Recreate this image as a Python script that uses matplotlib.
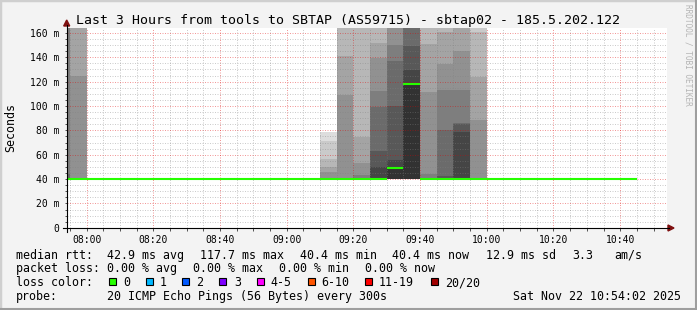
import matplotlib
matplotlib.use("Agg")
import matplotlib.pyplot as plt
from matplotlib.lines import Line2D
from matplotlib.patches import Rectangle, Polygon
from matplotlib.ticker import MultipleLocator, FuncFormatter

W, H = 697, 310
plt.rcParams["font.family"] = ["DejaVu Sans Mono", "DejaVu Sans"]

title = "Last 3 Hours from tools to SBTAP (AS59715) - sbtap02 - 185.5.202.122"
view_start = "07:54:02"
view_end = "10:54:02"
y_top = 164

# 5 minute steps with visible smoke, 20 sorted pings each (ms)
smoke_steps = ["07:50", "07:55", "09:10", "09:15", "09:20", "09:25",
               "09:30", "09:35", "09:40", "09:45", "09:50", "09:55"]
smoke_pings = [
    [40.4, 40.4, 40.4, 40.4, 40.4, 40.4, 40.4, 40.4, 40.4, 40.4,
     40.4, 40.4, 40.4, 44.0, 170.0, 178.0, 185.0, 192.0, 200.0, 210.0],
    [40.4, 40.4, 40.4, 40.4, 40.4, 40.4, 40.4, 40.4, 40.4, 40.4,
     40.4, 40.4, 40.4, 40.4, 40.4, 124.5, 170.0, 180.0, 190.0, 200.0],
    [40.4, 40.4, 40.4, 40.4, 40.4, 40.4, 40.4, 40.4, 40.4, 40.4,
     40.4, 40.4, 40.4, 40.4, 40.4, 45.5, 49.6, 56.4, 71.5, 78.6],
    [40.4, 40.4, 40.4, 40.4, 40.4, 40.4, 40.4, 40.4, 40.4, 40.4,
     40.4, 40.4, 40.4, 40.4, 40.4, 109.2, 141.2, 175.0, 185.0, 195.0],
    [40.4, 40.4, 40.4, 40.4, 40.4, 40.4, 40.4, 40.4, 40.4, 40.4,
     40.4, 40.4, 40.4, 40.4, 43.3, 52.9, 74.8, 175.0, 185.0, 195.0],
    [40.4, 40.4, 40.4, 40.4, 40.4, 40.4, 40.4, 40.4, 40.4, 40.4,
     40.4, 50.1, 63.0, 99.4, 112.2, 139.5, 151.8, 172.0, 182.0, 195.0],
    [40.4, 40.4, 40.4, 40.4, 40.4, 40.4, 40.4, 40.4, 40.4, 40.4,
     49.0, 55.6, 99.9, 136.8, 150.0, 168.0, 175.0, 182.0, 190.0, 200.0],
    [40.4, 40.4, 40.4, 40.4, 40.4, 40.4, 40.4, 40.4, 40.4, 40.4,
     117.7, 129.4, 149.4, 168.0, 172.0, 178.0, 184.0, 190.0, 198.0, 210.0],
    [40.4, 40.4, 40.4, 40.4, 40.4, 40.4, 40.4, 40.4, 40.4, 40.4,
     40.4, 40.4, 40.4, 40.4, 44.1, 111.1, 150.8, 172.0, 182.0, 195.0],
    [40.4, 40.4, 40.4, 40.4, 40.4, 40.4, 40.4, 40.4, 40.4, 40.4,
     40.4, 40.4, 42.7, 80.2, 113.0, 134.4, 160.4, 172.0, 182.0, 195.0],
    [40.4, 40.4, 40.4, 40.4, 40.4, 40.4, 40.4, 40.4, 40.4, 40.4,
     40.4, 78.3, 85.1, 86.0, 113.0, 145.2, 170.0, 178.0, 186.0, 195.0],
    [40.4, 40.4, 40.4, 40.4, 40.4, 40.4, 40.4, 40.4, 40.4, 40.4,
     40.4, 40.4, 40.4, 40.4, 40.4, 88.1, 123.5, 160.4, 175.0, 190.0],
]

# median rtt per 5 minute step, first step 07:50, last 10:40
median_first = "07:50"
median_ms = [40.4, 40.4, 40.4, 40.4, 40.4, 40.4, 40.4, 40.4, 40.4, 40.4,
             40.4, 40.4, 40.4, 40.4, 40.4, 40.4, 40.4, 40.4, 40.4, 40.4,
             49.0, 117.7, 40.4, 40.4, 40.4, 40.4, 40.4, 40.4, 40.4, 40.4,
             40.4, 40.4, 40.4, 40.4, 40.4]

rtt_stats = [("avg", 42.9), ("max", 117.7), ("min", 40.4), ("now", 40.4)]
rtt_sd = 12.9
rtt_am_s = 3.3
loss_stats = [("avg", 0.00), ("max", 0.00), ("min", 0.00), ("now", 0.00)]
loss_labels = ["0", "1", "2", "3", "4-5", "6-10", "11-19", "20/20"]
loss_colors = ["#26ff00", "#00b8ff", "#0059ff", "#7e00ff",
               "#ff00ff", "#ff5500", "#ff0000", "#a10000"]
probe_text = "20 ICMP Echo Pings (56 Bytes) every 300s"
stamp = "Sat Nov 22 10:54:02 2025"


def minutes(hhmm):
    parts = [int(p) for p in hhmm.split(":")]
    m = parts[0] * 60 + parts[1]
    if len(parts) > 2:
        m += parts[2] / 60.0
    return m


def smoke_gray(ibot, half=10):
    c = int(190 / half * (half - ibot)) + 50
    return "#" + ("%02x" % c) * 3


def fx(x):
    return x / W


def fy(y):
    return 1 - y / H


fig = plt.figure(figsize=(W / 100, H / 100), dpi=100, facecolor="#f3f3f3")
# frame shading
fig.add_artist(Rectangle((0, 0), 1, 1, transform=fig.transFigure, fill=False,
                         edgecolor="#cfcfcf", linewidth=2.5))
fig.add_artist(Line2D([0, 1], [fy(309), fy(309)], color="#9e9e9e", lw=1.5))
fig.add_artist(Line2D([fx(696), fx(696)], [0, 1], color="#9e9e9e", lw=1.5))

ax = fig.add_axes([fx(66.7), fy(227.8), fx(667) - fx(66.7), fy(28) - fy(227.8)])
ax.set_facecolor("white")
ax.set_xlim(minutes(view_start), minutes(view_end))
ax.set_ylim(0, y_top)

# smoke: outer ping pairs first, lighter; inner pairs darker on top
for step, pings in zip(smoke_steps, smoke_pings):
    x0 = minutes(step)
    for ibot in range(1, 11):
        lo = pings[ibot - 1]
        hi = pings[20 - ibot]
        if hi > lo:
            ax.bar(x0, hi - lo, bottom=lo, width=5, align="edge",
                   color=smoke_gray(ibot), linewidth=0, zorder=1)

x_med = minutes(median_first)
for i, m in enumerate(median_ms):
    ax.hlines(m, x_med + 5 * i, x_med + 5 * i + 5, colors=loss_colors[0],
              linewidth=1.5, zorder=3)

ax.xaxis.set_major_locator(MultipleLocator(20))
ax.xaxis.set_minor_locator(MultipleLocator(5))
ax.yaxis.set_major_locator(MultipleLocator(20))
ax.yaxis.set_minor_locator(MultipleLocator(5))
ax.xaxis.set_major_formatter(FuncFormatter(
    lambda v, p: "%02d:%02d" % (int(round(v)) // 60, int(round(v)) % 60)))
ax.yaxis.set_major_formatter(FuncFormatter(
    lambda v, p: "0" if v == 0 else "%d m" % v))
ax.set_axisbelow(False)
ax.grid(which="minor", color="#808080", alpha=0.4, linestyle=(0, (1, 1.5)),
        linewidth=0.72)
ax.grid(which="major", color="#e00000", alpha=0.4, linestyle=(0, (1, 1.5)),
        linewidth=0.72)
for s in ax.spines.values():
    s.set_visible(False)
ax.tick_params(axis="both", which="both", direction="out", length=1.8,
               width=0.72, color="#555555", labelsize=7)
ax.tick_params(axis="x", which="major", pad=3.2)
ax.tick_params(axis="y", which="major", pad=3.5)

# axis lines with arrows
fig.add_artist(Line2D([fx(63), fx(669)], [fy(228), fy(228)], color="black", lw=0.8))
fig.add_artist(Line2D([fx(66.7), fx(66.7)], [fy(232), fy(25)], color="black", lw=0.8))
fig.add_artist(Polygon([(fx(66.7), fy(20)), (fx(63.7), fy(26)), (fx(69.7), fy(26))],
                       closed=True, color="#7f1010", transform=fig.transFigure))
fig.add_artist(Polygon([(fx(674), fy(228)), (fx(668), fy(225)), (fx(668), fy(231))],
                       closed=True, color="#7f1010", transform=fig.transFigure))

fig.text(fx(348), fy(24), title, ha="center", va="baseline", fontsize=9.55)
fig.text(fx(11), fy(127), "Seconds", rotation=90, ha="center", va="center",
         fontsize=8.4)
fig.text(fx(688), fy(4), "RRDTOOL / TOBI OETIKER", rotation=270, ha="center",
         va="top", fontsize=5.6, color="#b4b4b4")

fs = 8.4
row_y = [258.6, 272.3, 286.0, 299.7]
fig.text(fx(15.5), fy(row_y[0]), "median rtt:", fontsize=fs, va="baseline")
rtt_x = [106.8, 199.5, 299.8, 392.5]
for (name, val), x in zip(rtt_stats, rtt_x):
    fig.text(fx(x), fy(row_y[0]), "%.1f ms %s" % (val, name), fontsize=fs,
             va="baseline")
fig.text(fx(486.2), fy(row_y[0]), "%.1f ms sd" % rtt_sd, fontsize=fs, va="baseline")
fig.text(fx(571.8), fy(row_y[0]), "%.1f" % rtt_am_s, fontsize=fs, va="baseline")
fig.text(fx(614.2), fy(row_y[0]), "am/s", fontsize=fs, va="baseline")

fig.text(fx(15.5), fy(row_y[1]), "packet loss:", fontsize=fs, va="baseline")
loss_x = [106.8, 193.2, 278.8, 364.8]
for (name, val), x in zip(loss_stats, loss_x):
    fig.text(fx(x), fy(row_y[1]), "%.2f %% %s" % (val, name), fontsize=fs,
             va="baseline")

fig.text(fx(15.5), fy(row_y[2]), "loss color:", fontsize=fs, va="baseline")
box_x = [108.7, 145.7, 182.3, 219.0, 257.0, 308.3, 365.3, 431.3]
lab_x = [123.3, 160.0, 196.6, 234.0, 270.2, 321.5, 378.5, 445.2]
for lab, col, bx, lx in zip(loss_labels, loss_colors, box_x, lab_x):
    fig.add_artist(Rectangle((fx(bx), fy(284.7)), 7 / W, 7 / H,
                             transform=fig.transFigure, facecolor=col,
                             edgecolor="black", linewidth=0.8))
    fig.text(fx(lx), fy(row_y[2]), lab, fontsize=fs, va="baseline")

fig.text(fx(15.5), fy(row_y[3]), "probe:", fontsize=fs, va="baseline")
fig.text(fx(106.8), fy(row_y[3]), probe_text, fontsize=fs, va="baseline")
fig.text(fx(681), fy(row_y[3]), stamp, fontsize=fs, va="baseline", ha="right")

fig.savefig("out.png", dpi=100, facecolor=fig.get_facecolor())
